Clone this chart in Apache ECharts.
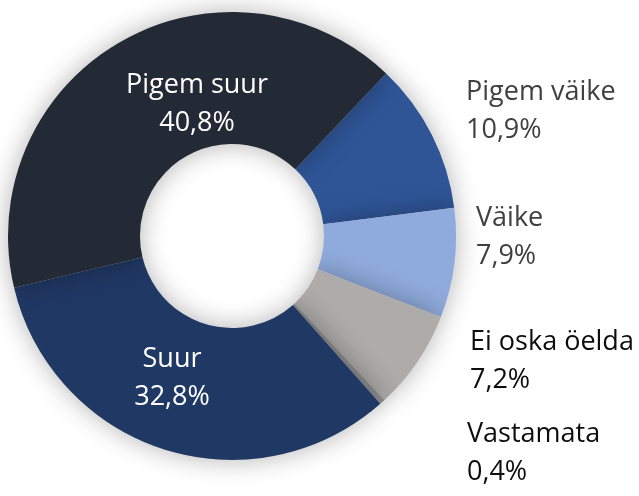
<!DOCTYPE html>
<html>
<head>
<meta charset="utf-8">
<script src="https://cdn.jsdelivr.net/npm/echarts@6/dist/echarts.min.js"></script>
<style>
  html, body { margin: 0; padding: 0; background: #fff; }
  #chart { width: 639px; height: 496px; }
</style>
</head>
<body>
<div id="chart"></div>
<script>
const categories = ['Pigem väike', 'Väike', 'Ei oska öelda', 'Vastamata', 'Suur', 'Pigem suur'];
const shares = [10.9, 7.9, 7.2, 0.4, 32.8, 40.8];
const colors = ['#2f5597', '#8faadc', '#aeabab', '#8c8c8c', '#203864', '#232a36'];

// label anchor spots
const labelSpots = [
  {x: 466, y: 73, color: '#404040'},
  {x: 476, y: 199, color: '#404040'},
  {x: 470, y: 323, color: '#0d0d0d'},
  {x: 467, y: 415, color: '#0d0d0d'},
  {x: 172, y: 378, color: '#ffffff', center: true},
  {x: 197, y: 104, color: '#ffffff', center: true}
];

const chart = echarts.init(document.getElementById('chart'));

chart.setOption({
  animation: false,
  series: [{
    type: 'pie',
    center: [232, 236],
    radius: [92, 224],
    startAngle: 46.5,
    clockwise: true,
    avoidLabelOverlap: false,
    itemStyle: {
      shadowBlur: 26,
      shadowColor: 'rgba(0,0,0,0.3)'
    },
    label: {
      show: true,
      position: 'inside',
      fontFamily: 'Open Sans',
      fontSize: 27,
      lineHeight: 38,
      formatter: p => p.name + '\n' + p.value.toFixed(1).replace('.', ',') + '%'
    },
    labelLine: {show: false},
    labelLayout: params => {
      const s = labelSpots[params.dataIndex];
      return s.center
        ? {x: s.x, y: s.y, align: 'center', verticalAlign: 'middle'}
        : {x: s.x, y: s.y, align: 'left', verticalAlign: 'top'};
    },
    data: categories.map((name, i) => ({
      name: name,
      value: shares[i],
      itemStyle: {color: colors[i]},
      label: {color: labelSpots[i].color, align: labelSpots[i].center ? 'center' : 'left'}
    }))
  }]
});
</script>
</body>
</html>
